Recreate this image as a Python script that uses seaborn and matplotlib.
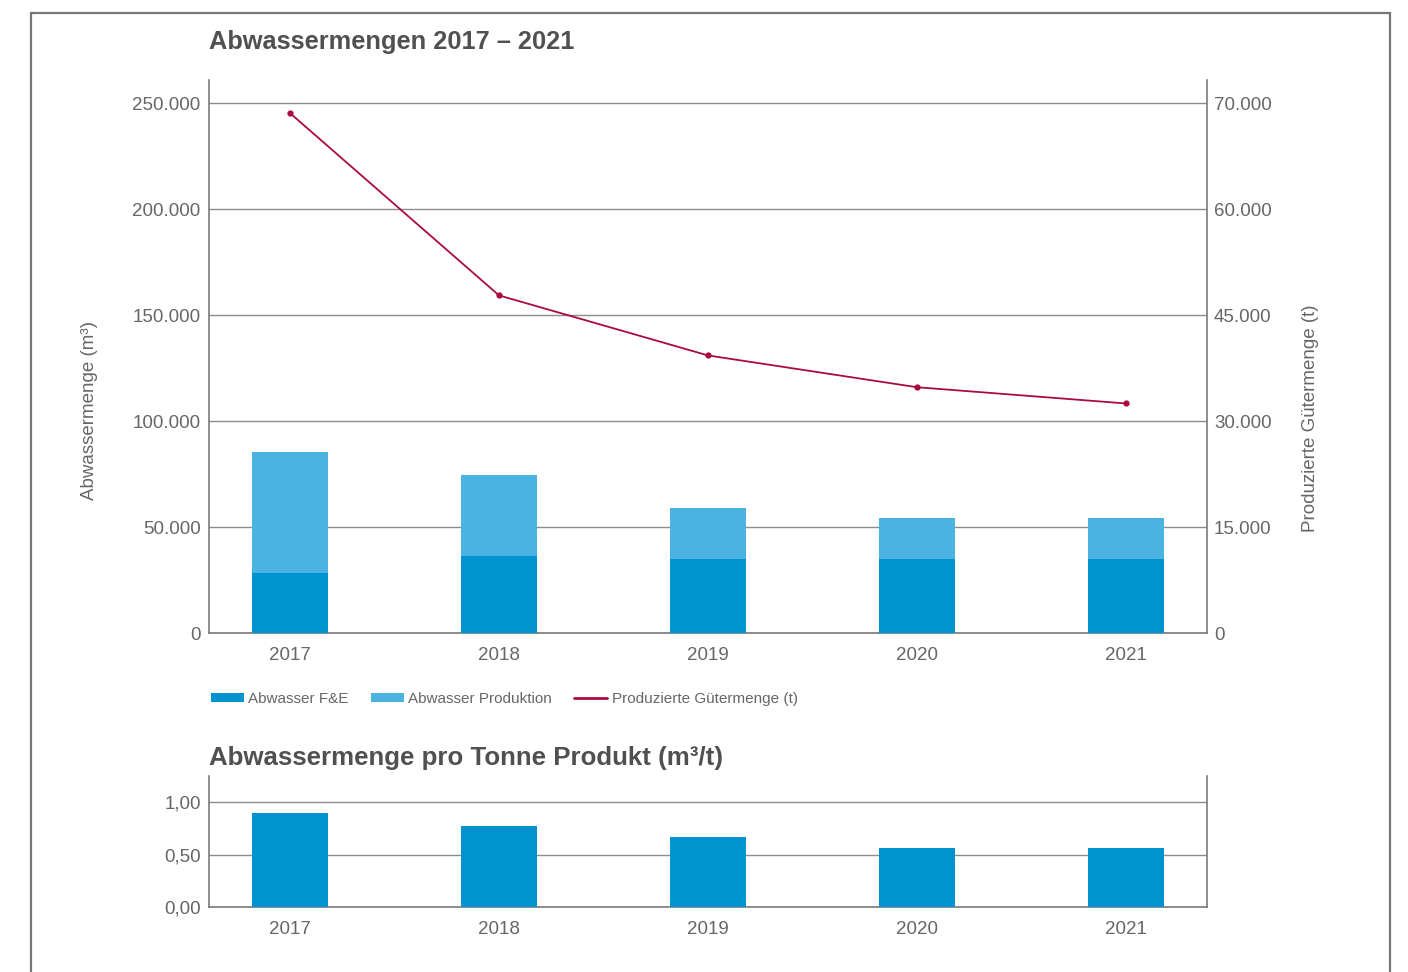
import numpy as np
import pandas as pd
import matplotlib
matplotlib.use("Agg")
import matplotlib.pyplot as plt
from matplotlib.patches import Patch, Rectangle
from matplotlib.lines import Line2D
import seaborn as sns

# --- data -------------------------------------------------------------
years = ["2017", "2018", "2019", "2020", "2021"]
abwasser_fe = [28300, 36300, 34900, 34900, 34900]            # m³
abwasser_produktion = [57100, 38200, 24100, 19300, 19300]    # m³
guetermenge = [73600, 47800, 39300, 34800, 32500]            # t
pro_tonne = [0.895, 0.77, 0.667, 0.56, 0.56]                 # m³/t

left_ticks = [0, 50000, 100000, 150000, 200000, 250000]
left_labels = ["0", "50.000", "100.000", "150.000", "200.000", "250.000"]
right_ticks = [0, 15000, 30000, 45000, 60000, 75000]
right_labels = ["0", "15.000", "30.000", "45.000", "60.000", "70.000"]
bottom_ticks = [0.0, 0.5, 1.0]
bottom_labels = ["0,00", "0,50", "1,00"]

# --- style ------------------------------------------------------------
sns.set_theme(style="white")
plt.rcParams["font.family"] = ["Liberation Sans", "DejaVu Sans"]

DARK = "#0093cf"
LIGHT = "#4ab3e1"
RED = "#ab0a3f"
GRID = "#8c8c8c"
SPINE = "#7a7a7a"
TEXT = "#666666"
TITLE = "#505050"

W, H = 1408, 972
fig = plt.figure(figsize=(W / 100, H / 100), dpi=100)

def fx(px):
    return px / W

def fy(py):
    return 1 - py / H

ax = fig.add_axes([fx(209), fy(633), fx(1207) - fx(209), fy(80) - fy(633)])
axb = fig.add_axes([fx(209), fy(907), fx(1207) - fx(209), fy(776) - fy(907)])

df = pd.DataFrame({
    "Jahr": years,
    "fe": abwasser_fe,
    "prod": abwasser_produktion,
    "gueter": guetermenge,
    "pro_tonne": pro_tonne,
})
df["gesamt"] = df["fe"] + df["prod"]

BAR_W = 0.364
XLIM = (-0.388, len(years) - 1 + 0.388)

# --- upper chart: stacked bars + production line ------------------------
sns.barplot(data=df, x="Jahr", y="gesamt", order=years, color=LIGHT,
            saturation=1, width=BAR_W, linewidth=0, ax=ax, zorder=3)
sns.barplot(data=df, x="Jahr", y="fe", order=years, color=DARK,
            saturation=1, width=BAR_W, linewidth=0, ax=ax, zorder=3)

ax2 = ax.twinx()
sns.lineplot(x=np.arange(len(years)), y=df["gueter"], ax=ax2, color=RED,
             lw=1.3, marker="o", markersize=4.5, markeredgewidth=0, zorder=5)

ax.set_xlim(*XLIM)
ax2.set_xlim(*XLIM)
ax.set_ylim(0, 261000)
ax2.set_ylim(0, 78300)

ax.set_yticks(left_ticks)
ax.set_yticklabels(left_labels)
ax2.set_yticks(right_ticks)
ax2.set_yticklabels(right_labels)

ax.yaxis.grid(True, color=GRID, lw=1.0)
ax.set_axisbelow(True)
ax.set_xlabel("")
ax.set_ylabel("Abwassermenge (m³)", color=TEXT, fontsize=13.5)
ax2.set_ylabel("Produzierte Gütermenge (t)", color=TEXT, fontsize=13.5)
ax.yaxis.set_label_coords(-0.111, 0.403)
ax2.yaxis.set_label_coords(1.095, 0.389)

for s in ["top", "right"]:
    ax.spines[s].set_visible(False)
for s in ["top", "left", "bottom"]:
    ax2.spines[s].set_visible(False)
for s in ["left", "bottom"]:
    ax.spines[s].set_color(SPINE)
    ax.spines[s].set_linewidth(1.2)
ax2.spines["right"].set_color(SPINE)
ax2.spines["right"].set_linewidth(1.2)

ax.tick_params(axis="both", length=0, labelsize=13.5, labelcolor=TEXT)
ax.tick_params(axis="y", pad=6)
ax.tick_params(axis="x", pad=10)
ax2.tick_params(axis="y", length=0, labelsize=13.5, labelcolor=TEXT, pad=5)

ax.set_zorder(1)
ax2.set_zorder(2)
ax2.patch.set_visible(False)

fig.text(fx(209), fy(42), "Abwassermengen 2017 – 2021", fontsize=18.3,
         fontweight="bold", color=TITLE, va="center", ha="left")

handles = [
    Patch(facecolor=DARK, edgecolor="none", label="Abwasser F&E"),
    Patch(facecolor=LIGHT, edgecolor="none", label="Abwasser Produktion"),
    Line2D([0], [0], color=RED, lw=2, label="Produzierte Gütermenge (t)"),
]
fig.legend(handles=handles, loc="center left",
           bbox_to_anchor=(fx(211), fy(699)), ncol=3, frameon=False,
           fontsize=11, handlelength=2.15, handleheight=0.6,
           handletextpad=0.3, columnspacing=1.45, borderpad=0,
           borderaxespad=0, labelcolor=TEXT)

# --- lower chart: wastewater per tonne ---------------------------------
sns.barplot(data=df, x="Jahr", y="pro_tonne", order=years, color=DARK,
            saturation=1, width=BAR_W, linewidth=0, ax=axb, zorder=3)
axb.set_xlim(*XLIM)
axb.set_ylim(0, 1.248)
axb.set_yticks(bottom_ticks)
axb.set_yticklabels(bottom_labels)
axb.yaxis.grid(True, color=GRID, lw=1.0)
axb.set_axisbelow(True)
axb.set_xlabel("")
axb.set_ylabel("")
axb.spines["top"].set_visible(False)
for s in ["left", "bottom", "right"]:
    axb.spines[s].set_color(SPINE)
    axb.spines[s].set_linewidth(1.2)
axb.tick_params(axis="both", length=0, labelsize=13.5, labelcolor=TEXT)
axb.tick_params(axis="y", pad=6)
axb.tick_params(axis="x", pad=10)

fig.text(fx(209), fy(758), "Abwassermenge pro Tonne Produkt (m³/t)",
         fontsize=18.6, fontweight="bold", color=TITLE, va="center", ha="left")

# --- outer frame --------------------------------------------------------
fig.patches.append(Rectangle((fx(30.5), -0.05), fx(1389.5) - fx(30.5),
                             fy(12.5) + 0.05, transform=fig.transFigure,
                             fill=False, edgecolor="#777777", lw=1.6))

fig.savefig("out.png", dpi=100)
